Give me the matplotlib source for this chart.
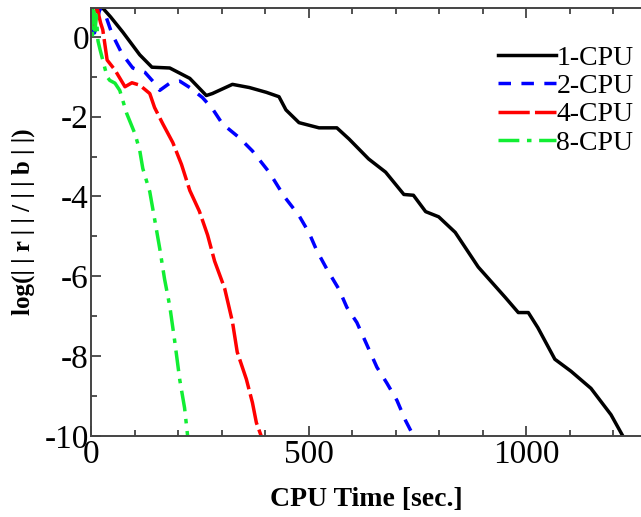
import matplotlib
matplotlib.use('Agg')
import matplotlib.pyplot as plt
from matplotlib.ticker import MultipleLocator

plt.rcParams['font.family'] = ['Liberation Serif', 'DejaVu Serif']
plt.rcParams['axes.unicode_minus'] = False

# residual history
t_1cpu = [0, 10, 27, 45, 73, 112, 140, 181, 227, 265, 279, 325, 364, 403, 432, 448,
          478, 524, 565, 593, 638, 677, 719, 741, 769, 799, 837, 890, 952, 982,
          1005, 1027, 1066, 1103, 1149, 1195, 1222]
r_1cpu = [0.7, 0.75, 0.72, 0.5, 0.12, -0.45, -0.76, -0.78, -1.04, -1.47, -1.42, -1.19,
          -1.27, -1.39, -1.5, -1.83, -2.15, -2.28, -2.28, -2.56, -3.06, -3.39, -3.95,
          -3.97, -4.38, -4.51, -4.9, -5.77, -6.53, -6.91, -6.91, -7.29, -8.08, -8.38,
          -8.81, -9.47, -10.0]

t_2cpu = [0, 8, 20, 30, 48, 71, 96, 124, 146, 158, 181, 204, 227, 256, 279, 302,
          341, 371, 410, 444, 478, 501, 519, 542, 570, 588, 611, 632, 657, 680,
          703, 723, 741]
r_2cpu = [0.3, 0.1, 0.7, 0.65, 0.08, -0.42, -0.78, -0.89, -1.16, -1.34, -1.16, -1.11,
          -1.27, -1.52, -1.8, -2.18, -2.53, -2.86, -3.4, -4.0, -4.48, -4.91, -5.36,
          -5.82, -6.33, -6.78, -7.16, -7.67, -8.28, -8.68, -9.11, -9.62, -10.0]

t_4cpu = [0, 8, 14, 22, 27, 37, 55, 78, 94, 112, 135, 146, 165, 188, 208, 227, 249,
          268, 284, 307, 325, 336, 357, 371, 380, 391]
r_4cpu = [0.7, 0.2, 0.72, 0.35, 0.18, -0.58, -0.83, -1.25, -1.15, -1.21, -1.42, -1.77,
          -2.18, -2.65, -3.2, -3.85, -4.37, -4.97, -5.62, -6.3, -7.14, -7.9, -8.58,
          -9.17, -9.67, -10.0]

t_8cpu = [0, 3, 6, 9, 12, 16, 21, 27, 37, 43, 55, 66, 82, 101, 112, 119, 135, 146,
          158, 169, 181, 192, 204, 215, 222]
r_8cpu = [0.7, 0.0, 0.65, 0.05, 0.55, -0.1, -0.33, -0.58, -1.0, -1.09, -1.16, -1.34,
          -1.92, -2.43, -2.85, -3.3, -3.88, -4.56, -5.31, -6.07, -6.75, -7.6, -8.6,
          -9.3, -10.0]

labels = ['1-CPU', '2-CPU', '4-CPU', '8-CPU']

fig = plt.figure(figsize=(6.41, 5.17), dpi=100)
ax = fig.add_axes([0.142, 0.157, 0.858, 0.828])

lw = 2.5
ax.plot(t_1cpu, r_1cpu, color='black', lw=lw, ls='-', label=labels[0])
ax.plot(t_2cpu, r_2cpu, color='#0000ff', lw=lw, ls=(0, (3.6, 3.0)), label=labels[1])
ax.plot(t_4cpu, r_4cpu, color='#ff0000', lw=lw, ls=(0, (9, 1.5)), label=labels[2])
ax.plot(t_8cpu, r_8cpu, color='#11ee33', lw=lw, ls=(0, (6, 2.2, 1.3, 2.2)), label=labels[3])

ax.set_xlim(0, 1264)
ax.set_ylim(-10, 0.73)
ax.xaxis.set_major_locator(MultipleLocator(500))
ax.xaxis.set_minor_locator(MultipleLocator(100))
ax.yaxis.set_major_locator(MultipleLocator(2))
ax.yaxis.set_minor_locator(MultipleLocator(1))
ax.tick_params(which='both', direction='in', top=True, right=False,
               colors='#333333', labelcolor='black', labelsize=24, width=1.2)
ax.tick_params(which='major', length=7)
ax.tick_params(which='minor', length=4)
ax.tick_params(axis='y', pad=1.5)
ax.tick_params(axis='x', pad=3)
ax.spines['right'].set_visible(False)
for s in ['top', 'bottom', 'left']:
    ax.spines[s].set_color('#444444')
    ax.spines[s].set_linewidth(1.4)

ax.set_xlabel('CPU Time [sec.]', fontsize=20, fontweight='bold', labelpad=12)
ax.set_ylabel('log(| | r | | / | | b | |)', fontsize=18, fontweight='bold')
ax.yaxis.set_label_coords(-0.102, 0.5)

leg = ax.legend(loc='upper left', bbox_to_anchor=(498 / 641, 0.912),
                bbox_transform=fig.transFigure, frameon=False, fontsize=20,
                handlelength=2.1, handletextpad=0.0, labelspacing=0.1,
                borderpad=0, borderaxespad=0)

fig.savefig('out.png', dpi=100)
